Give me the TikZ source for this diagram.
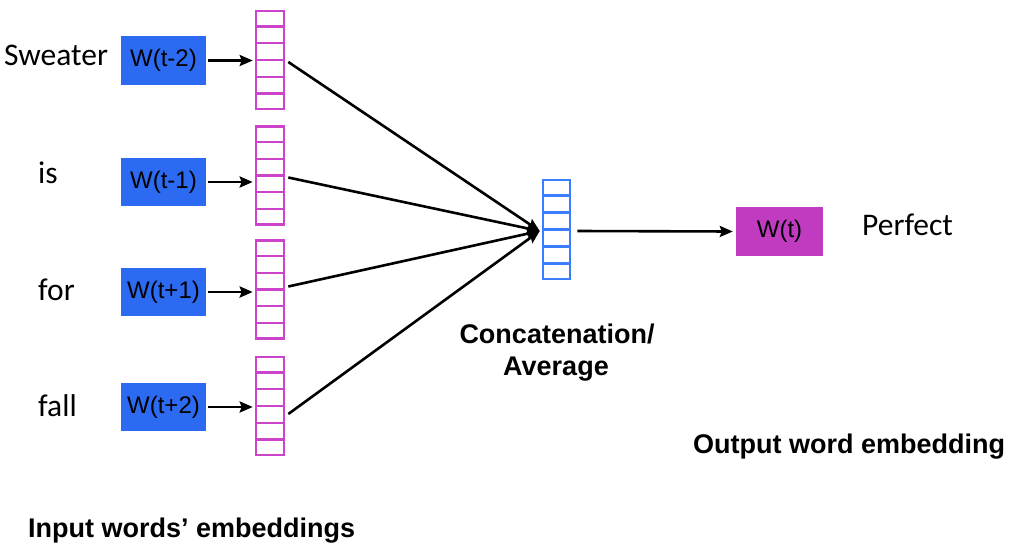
\documentclass[tikz,border=0pt]{standalone}
\usepackage{fontspec}
\setmainfont{Liberation Sans}
\newfontfamily\calfont{Carlito}
\usetikzlibrary{arrows.meta,calc}
\definecolor{wblue}{RGB}{45,106,242}
\definecolor{vpink}{RGB}{204,68,204}
\definecolor{vblue}{RGB}{59,125,255}
\definecolor{wpurple}{RGB}{193,59,193}
\tikzset{
  wbox/.style={fill=wblue, minimum width=85pt, minimum height=48pt, inner sep=0pt, font=\fontsize{24}{24}\selectfont},
  outbox/.style={wbox, fill=wpurple, minimum width=87pt, minimum height=49pt},
  vecbox/.style={draw=#1, line width=2.6pt, minimum width=28pt, minimum height=98pt, inner sep=0pt},
  conn/.style={-{Stealth[length=13pt,width=11pt,inset=2pt]}, line width=2.6pt},
  word/.style={font=\calfont\fontsize{31.5}{31.5}\selectfont, anchor=base west, inner sep=0pt},
  lbl/.style={font=\bfseries\fontsize{27}{27}\selectfont, inner sep=0pt}
}
\newcommand{\cells}[2]{%
  \foreach \k in {1,...,5}{%
    \draw[#2, line width=2.4pt] ($(#1.north west)!\k/6!(#1.south west)$) -- ($(#1.north east)!\k/6!(#1.south east)$);%
  }%
}
\begin{document}
\begin{tikzpicture}[x=1pt,y=-1pt]
\useasboundingbox (0,0) rectangle (1011,543);
% words
\node[word] (sw) at (4,65) {Sweater};
\node[word] (is) at (38,183) {is};
\node[word] (fo) at (38,300) {for};
\node[word] (fa) at (38,416) {fall};
\node[word] (pe) at (862,235) {Perfect};
% input boxes
\node[wbox] (b1) at (163.5,60.5) {W(t-2)};
\node[wbox] (b2) at (163.5,182) {W(t-1)};
\node[wbox] (b3) at (163.5,292) {W(t+1)};
\node[wbox] (b4) at (163.5,407) {W(t+2)};
% pink vectors
\node[vecbox=vpink] (v1) at (270,60) {};
\node[vecbox=vpink] (v2) at (270,175.5) {};
\node[vecbox=vpink] (v3) at (270,289.5) {};
\node[vecbox=vpink] (v4) at (270,406) {};
\cells{v1}{vpink}
\cells{v2}{vpink}
\cells{v3}{vpink}
\cells{v4}{vpink}
% center vector
\node[vecbox=vblue, minimum width=27pt, minimum height=99pt] (cv) at (556.5,229.5) {};
\cells{cv}{vblue}
% output box
\node[outbox] (out) at (779.5,231.5) {W(t)};
% arrows
\draw[conn] ($(b1.east)+(2,0)$) -- ($(b1.east -| v1.west)+(-2,0)$);
\draw[conn] ($(b2.east)+(2,0)$) -- ($(b2.east -| v2.west)+(-2,0)$);
\draw[conn] ($(b3.east)+(2,0)$) -- ($(b3.east -| v3.west)+(-2,0)$);
\draw[conn] ($(b4.east)+(2,0)$) -- ($(b4.east -| v4.west)+(-2,0)$);
\draw[conn] ($(v1.east)+(3,2)$) -- ($(cv.west)+(-2,1.5)$);
\draw[conn] ($(v2.east)+(3,2)$) -- ($(cv.west)+(-2,1.5)$);
\draw[conn] ($(v3.east)+(3,-3)$) -- ($(cv.west)+(-2,1.5)$);
\draw[conn] ($(v4.east)+(3,8)$) -- ($(cv.west)+(-2,1.5)$);
\draw[conn] ($(cv.east)+(6,1.5)$) -- ($(out.west)+(-3,0)$);
% labels
\node[lbl, anchor=base] (cat1) at (557,343) {Concatenation/};
\node[lbl, anchor=base] (cat2) at (556,375) {Average};
\node[lbl, anchor=base west] (outl) at (693,453) {Output word embedding};
\node[lbl, anchor=base west] (inl) at (28,537) {Input words’ embeddings};
\end{tikzpicture}
\end{document}
